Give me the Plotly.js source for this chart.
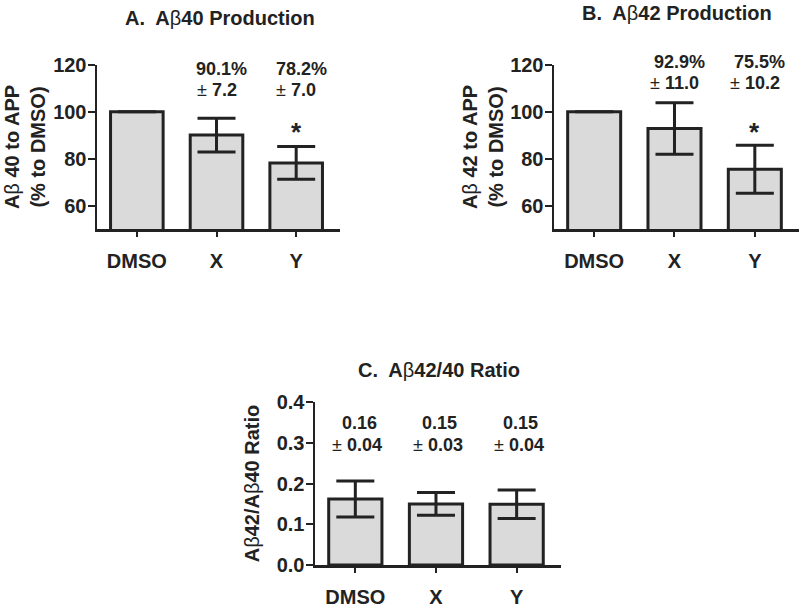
<!DOCTYPE html>
<html>
<head>
<meta charset="utf-8">
<script src="https://cdn.plot.ly/plotly-3.0.1.min.js"></script>
<style>html,body{margin:0;padding:0;background:#fff;}#chart{width:800px;height:607px;}</style>
</head>
<body>
<div id="chart"></div>
<script>
// ---- data ----
const categories = ['DMSO', 'X', 'Y'];
const ab40Mean = [100, 90.1, 78.2];
const ab40Sem = [null, 7.2, 7.0];
const ab42Mean = [100, 92.9, 75.5];
const ab42Sem = [null, 11.0, 10.2];
const ratioMean = [0.162, 0.150, 0.149];
const ratioSem = [0.044, 0.028, 0.035];
const ratioLabelMean = ['0.16', '0.15', '0.15'];
const ratioLabelSem = ['0.04', '0.03', '0.04'];
const significant = [false, false, true];
const panelTitles = ['A.  A<span style="font-weight:normal">β</span>40 Production',
                     'B.  A<span style="font-weight:normal">β</span>42 Production',
                     'C.  A<span style="font-weight:normal">β</span>42/40 Ratio'];
const yTitles = ['A<span style="font-weight:normal">β</span> 40 to APP<br>(% to DMSO)',
                 'A<span style="font-weight:normal">β</span> 42 to APP<br>(% to DMSO)',
                 'A<span style="font-weight:normal">β</span>42/A<span style="font-weight:normal">β</span>40 Ratio'];

// ---- style ----
const ink = '#222222';
const FONT = 'Arial, "Liberation Sans", sans-serif';
const pm = '<span style="font-weight:normal">±</span>';
const py = p => 1 - p / 607;   // pixel row -> paper fraction

function barTrace(mean, sem, xa, ya) {
  return {
    type: 'bar', x: categories, y: mean, xaxis: xa, yaxis: ya,
    width: 0.66,
    marker: {color: '#dadada', line: {color: ink, width: 3}},
    error_y: {type: 'data', array: sem, visible: true, color: ink, thickness: 3, width: 19},
    hoverinfo: 'skip', showlegend: false
  };
}

const data = [
  barTrace(ab40Mean, ab40Sem, 'x', 'y'),
  barTrace(ab42Mean, ab42Sem, 'x2', 'y2'),
  barTrace(ratioMean, ratioSem, 'x3', 'y3')
];

function xAxis(domain, anchor) {
  return {
    domain: domain, anchor: anchor, type: 'category', range: [-0.5, 2.55],
    showline: true, linecolor: ink, linewidth: 2.5, mirror: false,
    ticks: 'outside', ticklen: 5, tickwidth: 2, tickcolor: ink,
    ticklabelstandoff: 7,
    tickfont: {family: FONT, size: 20, color: ink, weight: 'bold'},
    showgrid: false, zeroline: false, fixedrange: true
  };
}
function yAxis(domain, anchor, range, dtick, fmt, title, standoff) {
  return {
    domain: domain, anchor: anchor, range: range, dtick: dtick, tick0: 0, tickformat: fmt,
    showline: true, linecolor: ink, linewidth: 2.5,
    ticks: 'outside', ticklen: 7, tickwidth: 2, tickcolor: ink,
    ticklabelstandoff: -3,
    tickfont: {family: FONT, size: 20, color: ink, weight: 'bold'},
    showgrid: false, zeroline: false, fixedrange: true,
    title: {text: title, standoff: standoff, font: {family: FONT, size: 20, color: ink, weight: 'bold'}}
  };
}

const annotations = [];
const annFont = {family: FONT, size: 18, color: ink, weight: 'bold'};
function addLabels(mean, sem, xref, row1, row2, starY) {
  categories.forEach((c, i) => {
    if (sem[i] === null) return;
    annotations.push({xref: xref, yref: 'paper', x: c, y: py(row1), xshift: 5, text: mean[i].toFixed(1) + '%',
      showarrow: false, font: annFont, yanchor: 'middle'});
    annotations.push({xref: xref, yref: 'paper', x: c, y: py(row2), xshift: 0, text: pm + ' ' + sem[i].toFixed(1),
      showarrow: false, font: annFont, yanchor: 'middle'});
    if (significant[i]) {
      annotations.push({xref: xref, yref: 'paper', x: c, y: py(starY), text: '*', showarrow: false,
        font: {family: FONT, size: 26, color: ink, weight: 'bold'}, yanchor: 'middle'});
    }
  });
}
addLabels(ab40Mean, ab40Sem, 'x', 69, 90, 132);
addLabels(ab42Mean, ab42Sem, 'x2', 62, 83, 132);
categories.forEach((c, i) => {
  annotations.push({xref: 'x3', yref: 'paper', x: c, y: py(423), xshift: 4, text: ratioLabelMean[i],
    showarrow: false, font: annFont, yanchor: 'middle'});
  annotations.push({xref: 'x3', yref: 'paper', x: c, y: py(445), xshift: 2, text: pm + ' ' + ratioLabelSem[i],
    showarrow: false, font: annFont, yanchor: 'middle'});
});
const titlePos = [[220 / 800, py(18)], [677 / 800, py(13)], [439 / 800, py(370)]];
panelTitles.forEach((t, i) => {
  annotations.push({xref: 'paper', yref: 'paper', x: titlePos[i][0], y: titlePos[i][1], text: t,
    showarrow: false, xanchor: 'center', yanchor: 'middle',
    font: {family: FONT, size: 20, color: ink, weight: 'bold'}});
});

const layout = {
  width: 800, height: 607,
  margin: {l: 0, r: 0, t: 0, b: 0},
  paper_bgcolor: '#ffffff', plot_bgcolor: 'rgba(0,0,0,0)',
  font: {family: FONT, color: ink},
  showlegend: false,
  xaxis: xAxis([97 / 800, 340 / 800], 'y'),
  yaxis: yAxis([py(229), py(65)], 'x', [50, 120], 20, '', yTitles[0], 2),
  xaxis2: xAxis([554 / 800, 799 / 800], 'y2'),
  yaxis2: yAxis([py(229), py(65)], 'x2', [50, 120], 20, '', yTitles[1], 1),
  xaxis3: xAxis([315 / 800, 561 / 800], 'y3'),
  yaxis3: yAxis([py(565), py(402)], 'x3', [0, 0.4], 0.1, '.1f', yTitles[2], 12),
  annotations: annotations
};

Plotly.newPlot('chart', data, layout, {staticPlot: true, displayModeBar: false});
</script>
</body>
</html>
